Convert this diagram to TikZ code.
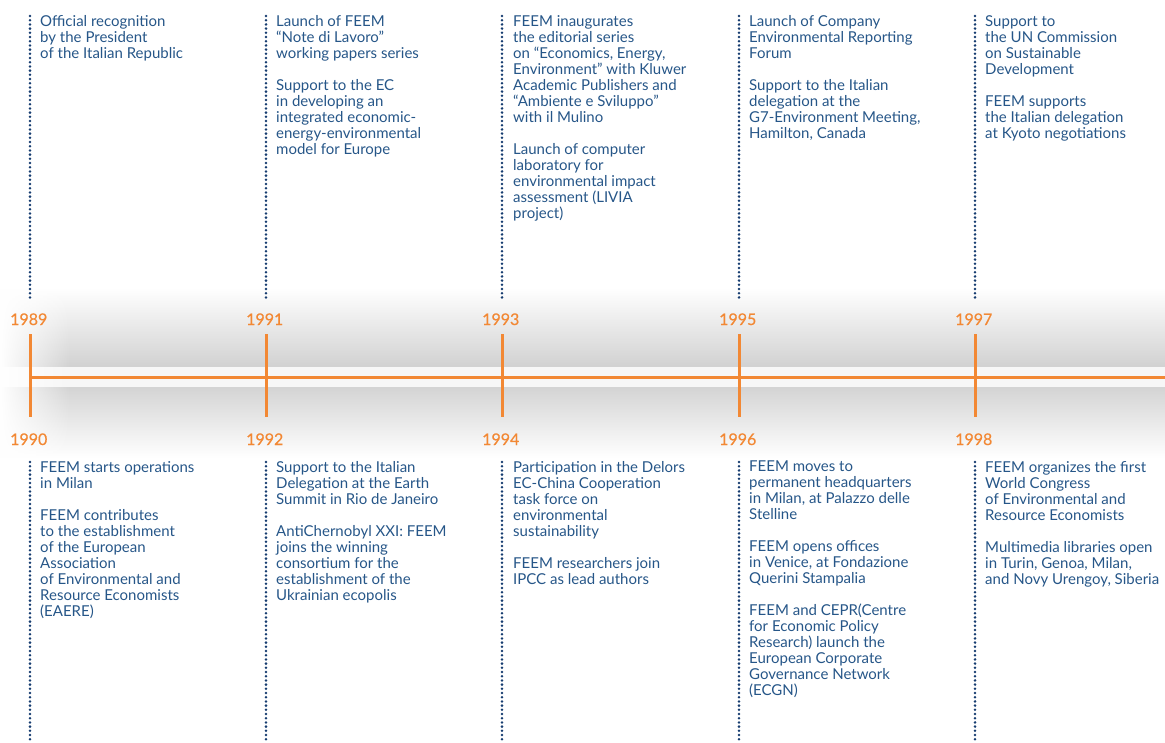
\documentclass[tikz,border=0pt]{standalone}
\usepackage{fontspec}
\setmainfont{Lato}
\newfontfamily\yearfont[FakeBold=0.5]{Lato}
\usetikzlibrary{fadings}
\definecolor{feemblue}{RGB}{38,86,136}
\definecolor{feemdots}{RGB}{22,60,112}
\definecolor{feemorange}{RGB}{242,136,52}
\tikzfading[name=fadeleft, left color=transparent!0, right color=transparent!100]
\tikzset{
  event/.style={anchor=north west, inner sep=0pt, align=left, text=feemblue,
    font=\fontsize{15}{16}\selectfont, execute at begin node=\rule{0pt}{12pt}},
  year/.style={anchor=base west, inner sep=0pt, text=feemorange,
    font=\yearfont\fontsize{16}{18}\selectfont},
  dots/.style={feemdots, line width=2.8pt, line cap=round, dash pattern=on 0pt off 4.2pt},
  tick/.style={feemorange, line width=3pt}
}
\begin{document}
\begin{tikzpicture}[x=1pt, y=-1pt]
  \useasboundingbox (0,0) rectangle (1165,742);
  % shaded band
  \shade [top color=white, bottom color=gray!36] (0,288) rectangle (1165,367);
  \fill [white!97!black] (0,367) rectangle (1165,387);
  \shade [top color=gray!34, bottom color=white] (0,387) rectangle (1165,458);
  \fill [white, path fading=fadeleft] (0,286) rectangle (70,460);
  % time axis
  \draw [tick] (30,377) -- (1165,377);
  \foreach \x/\up/\down in {30/1989/1990, 266/1991/1992, 502/1993/1994,
                            739/1995/1996, 975/1997/1998} {
    \draw [tick] (\x,334) -- (\x,417);
    \draw [dots] (\x,16) -- (\x,300);
    \draw [dots] (\x,462) -- (\x,742);
    \node [year] (y\up) at (\x-20,325) {\up};
    \node [year] (y\down) at (\x-20,445) {\down};
  }
  % upper events
  \node [event] (e1989) at (40,15) {Official recognition\\ by the President\\
    of the Italian Republic};
  \node [event] (e1991) at (276,15) {Launch of FEEM\\ “Note di Lavoro”\\
    working papers series\\[16pt] Support to the EC\\ in developing an\\
    integrated economic-\\ energy-environmental\\ model for Europe};
  \node [event] (e1993) at (513,15) {FEEM inaugurates\\ the editorial series\\
    on “Economics, Energy,\\ Environment” with Kluwer\\ Academic Publishers and\\
    “Ambiente e Sviluppo”\\ with il Mulino\\[16pt] Launch of computer\\
    laboratory for\\ environmental impact\\ assessment (LIVIA\\ project)};
  \node [event] (e1995) at (749,15) {Launch of Company\\ Environmental Reporting\\
    Forum\\[16pt] Support to the Italian\\ delegation at the\\
    G7-Environment Meeting,\\ Hamilton, Canada};
  \node [event] (e1997) at (985,15) {Support to\\ the UN Commission\\
    on Sustainable\\ Development\\[16pt] FEEM supports\\
    the Italian delegation\\ at Kyoto negotiations};
  % lower events
  \node [event] (e1990) at (40,461) {FEEM starts operations\\ in Milan\\[16pt]
    FEEM contributes\\ to the establishment\\ of the European\\ Association\\
    of Environmental and\\ Resource Economists\\ (EAERE)};
  \node [event] (e1992) at (276,461) {Support to the Italian\\
    Delegation at the Earth\\ Summit in Rio de Janeiro\\[16pt]
    AntiChernobyl XXI: FEEM\\ joins the winning\\ consortium for the\\
    establishment of the\\ Ukrainian ecopolis};
  \node [event] (e1994) at (513,461) {Participation in the Delors\\
    EC-China Cooperation\\ task force on\\ environmental\\ sustainability\\[16pt]
    FEEM researchers join\\ IPCC as lead authors};
  \node [event] (e1996) at (749,461) {FEEM moves to\\ permanent headquarters\\
    in Milan, at Palazzo delle\\ Stelline\\[16pt] FEEM opens offices\\
    in Venice, at Fondazione\\ Querini Stampalia\\[16pt] FEEM and CEPR(Centre\\
    for Economic Policy\\ Research) launch the\\ European Corporate\\
    Governance Network\\ (ECGN)};
  \node [event] (e1998) at (985,461) {FEEM organizes the first\\ World Congress\\
    of Environmental and\\ Resource Economists\\[16pt]
    Multimedia libraries open\\ in Turin, Genoa, Milan,\\
    and Novy Urengoy, Siberia};
\end{tikzpicture}
\end{document}
